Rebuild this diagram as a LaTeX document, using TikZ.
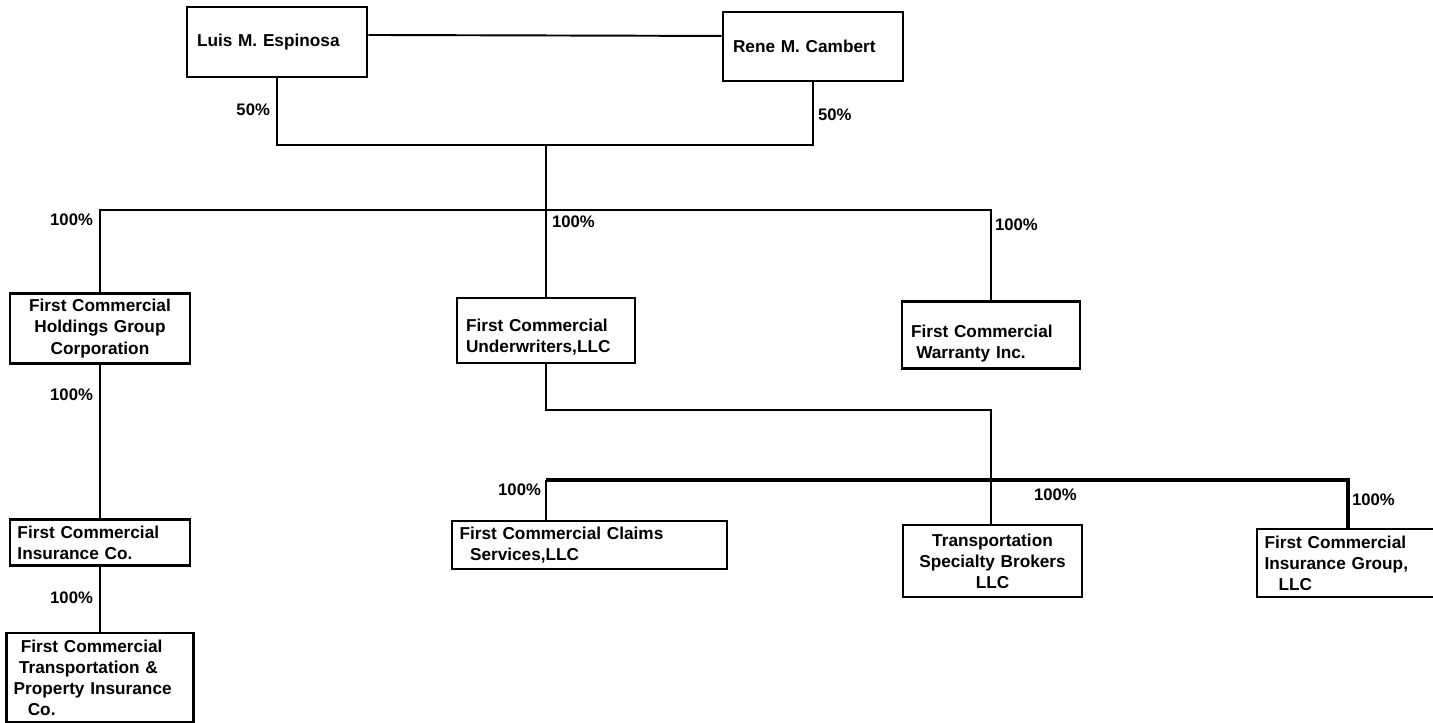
\documentclass[tikz,border=0pt]{standalone}
\usepackage{fontspec}
\setmainfont{Liberation Sans}
\usepackage{tikz}
\usetikzlibrary{positioning,calc}

\tikzset{
    orgbox/.style={draw, line width=1.6pt, rectangle, inner xsep=4pt,
        font=\bfseries\fontsize{9.8}{12}\selectfont},
    share/.style={font=\bfseries\fontsize{9.5}{11.5}\selectfont, inner sep=1pt},
    link/.style={line width=1.1pt},
    busline/.style={line width=2.2pt}
}

\begin{document}
\begin{tikzpicture}
    \useasboundingbox (0,0) rectangle (28.66,-14.46);

    % Owners
    \node[orgbox, minimum width=3.6cm, minimum height=1.4cm, text width=3.2cm, align=left] (luis) at (5.54,-0.84) {Luis M. Espinosa};
    \node[orgbox, minimum width=3.6cm, minimum height=1.38cm, text width=3.2cm, align=left] (rene) at (16.26,-0.93) {Rene M. Cambert};

    % First level
    \node[orgbox, minimum width=3.6cm, minimum height=1.34cm, text width=3.3cm, align=center] (hold) at (2.0,-6.57) {First Commercial\\Holdings Group\\Corporation};
    \node[orgbox, minimum width=3.56cm, minimum height=1.3cm, text width=3.2cm, text height=15pt, align=left] (under) at (10.92,-6.61) {First Commercial\\Underwriters,LLC};
    \node[orgbox, minimum width=3.56cm, minimum height=1.32cm, text width=3.2cm, text height=17pt, align=left] (warr) at (19.82,-6.7) {First Commercial\\\hspace*{3pt}Warranty Inc.};

    % Left branch
    \node[orgbox, minimum width=3.6cm, minimum height=0.9cm, text width=3.3cm, align=left] (insco) at (2.0,-10.85) {First Commercial\\Insurance Co.};
    \node[orgbox, minimum width=3.6cm, minimum height=1.78cm, text width=3.45cm, align=left] (trans) at (2.0,-13.55) {\hspace*{4pt}First Commercial\\\hspace*{3pt}Transportation \&\\Property Insurance\\\hspace*{8pt}Co.};

    % Underwriters branch
    \node[orgbox, minimum width=5.5cm, minimum height=0.92cm, text width=5.2cm, align=left] (claims) at (11.79,-10.9) {First Commercial Claims\\\hspace*{6pt}Services,LLC};
    \node[orgbox, minimum width=3.58cm, minimum height=1.44cm, text width=3.3cm, align=center] (tsb) at (19.85,-11.22) {Transportation\\Specialty Brokers\\LLC};
    \node[orgbox, minimum width=3.6cm, minimum height=1.36cm, text width=3.3cm, align=left] (grp) at (26.94,-11.26) {First Commercial\\Insurance Group,\\\hspace*{8pt}LLC};

    % Junctions
    \coordinate (own) at (10.92,-2.9);
    \coordinate (top) at (10.92,-4.2);
    \coordinate (sub) at (19.82,-8.2);
    \coordinate (bus) at (10.92,-9.6);

    % Lines
    \draw[link] ([yshift=4pt]luis.east) -- ([yshift=6pt]rene.west);
    \draw[link] (luis.south) |- (own) -| (rene.south);
    \draw[link] (own) -- (under.north);
    \draw[link] (hold.north) |- (top) -| (warr.north);
    \draw[link] (hold.south) -- (insco.north);
    \draw[link] (insco.south) -- (trans.north);
    \draw[link] (under.south) |- (sub) -- (sub |- tsb.north);
    \draw[busline] (bus) -| ([xshift=0.4pt]grp.north);
    \draw[link] (bus) -- (claims.north -| bus);
    \draw[link] (grp.north) -- ++(0,0.9);

    % Shares
    \node[share, anchor=east] (s1) at (5.44,-2.2) {50\%};
    \node[share, anchor=west] (s2) at (16.32,-2.3) {50\%};
    \node[share, anchor=east] (s3) at (1.9,-4.4) {100\%};
    \node[share, anchor=west] (s4) at (11.0,-4.44) {100\%};
    \node[share, anchor=west] (s5) at (19.86,-4.5) {100\%};
    \node[share, anchor=east] (s6) at (1.9,-7.9) {100\%};
    \node[share, anchor=east] (s7) at (1.9,-11.96) {100\%};
    \node[share, anchor=east] (s8) at (10.86,-9.8) {100\%};
    \node[share, anchor=west] (s9) at (20.64,-9.9) {100\%};
    \node[share, anchor=west] (s10) at (27.0,-10.0) {100\%};
\end{tikzpicture}
\end{document}
